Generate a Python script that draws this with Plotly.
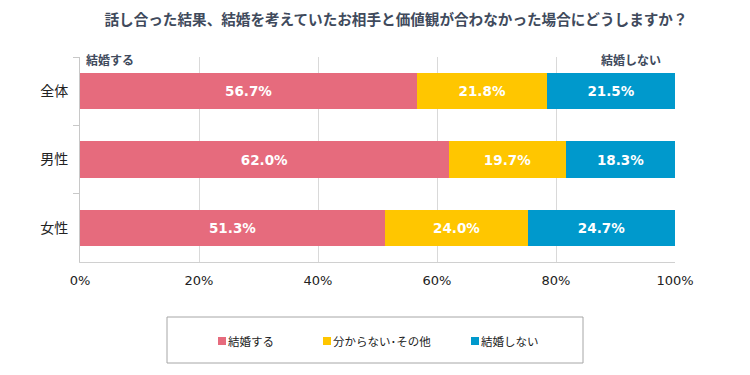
import plotly.graph_objects as go

categories = ["全体", "男性", "女性"]
series_names = ["結婚する", "分からない･その他", "結婚しない"]
marry = [56.7, 62.0, 51.3]
unknown = [21.8, 19.7, 24.0]
not_marry = [21.5, 18.3, 24.7]
colors = ["#E66B7D", "#FFC600", "#0099CC"]
x_ticks = [0, 20, 40, 60, 80, 100]

JP = "Noto Sans CJK JP"
NUM = "DejaVu Sans"

# page has an 8px body margin; figure is shrunk to keep the page inside the window
OFF = 8
W, H = 742, 367
PL, PR, PT, PB = 80, 675, 57, 262  # plot area in page pixels


def px_x(px):
    return (px - PL) / (PR - PL)


def px_y(py):
    return (PB - py) / (PB - PT)


fig = go.Figure()
for name, vals, col in zip(series_names, [marry, unknown, not_marry], colors):
    fig.add_trace(go.Bar(
        y=categories, x=vals, name=name, orientation="h",
        marker=dict(color=col, line=dict(width=0)),
        text=[f"{v:.1f}%" for v in vals], textposition="inside",
        insidetextanchor="middle", constraintext="none",
        textfont=dict(color="white", size=13.5, family=NUM, weight="bold"),
        hoverinfo="skip", showlegend=False,
    ))

fig.update_layout(
    barmode="stack", bargap=0.473,
    width=W, height=H,
    margin=dict(l=PL - OFF, r=W + OFF - PR, t=PT - OFF, b=H + OFF - PB, autoexpand=False),
    plot_bgcolor="white", paper_bgcolor="white",
    font=dict(family=JP, color="#222222"),
    title=dict(text="話し合った結果、結婚を考えていたお相手と価値観が合わなかった場合にどうしますか？",
               x=(396 - OFF) / W, xanchor="center", xref="container",
               y=1 - (20 - OFF) / H, yanchor="middle", yref="container",
               font=dict(size=14.6, color="#404A5C", family=JP, weight="bold")),
    xaxis=dict(range=[0, 100], tickvals=x_ticks, ticktext=[f"{t}%" for t in x_ticks],
               showgrid=True, gridcolor="#D9D9D9", gridwidth=1, zeroline=False,
               showline=True, linecolor="#D0D0D0", ticks="",
               tickfont=dict(size=13, color="#222222", family=NUM),
               ticklabelstandoff=6, automargin=False, fixedrange=True),
    yaxis=dict(autorange="reversed", showline=True, linecolor="#C8C8C8",
               ticks="outside", tickson="boundaries", ticklen=6, tickcolor="#C8C8C8",
               tickfont=dict(size=14, color="#222222", family=JP), ticklabelstandoff=8,
               automargin=False, fixedrange=True),
    showlegend=False,
)

# side captions above the plot
fig.add_annotation(text="結婚する", xref="paper", yref="paper", x=px_x(84), y=px_y(59),
                   xanchor="left", yanchor="middle", showarrow=False,
                   font=dict(size=12, color="#404A5C", weight="bold"))
fig.add_annotation(text="結婚しない", xref="paper", yref="paper", x=px_x(663), y=px_y(59),
                   xanchor="right", yanchor="middle", showarrow=False,
                   font=dict(size=12, color="#404A5C", weight="bold"))

# legend box
fig.add_shape(type="rect", xref="paper", yref="paper",
              x0=px_x(167), x1=px_x(583), y0=px_y(363), y1=px_y(317),
              line=dict(color="#A6A6A6", width=1), fillcolor="rgba(0,0,0,0)")
leg_marker_x = [222, 327, 475]
leg_y = 341
for name, col, mx in zip(series_names, colors, leg_marker_x):
    fig.add_shape(type="rect", xref="paper", yref="paper",
                  x0=px_x(mx - 4), x1=px_x(mx + 4), y0=px_y(leg_y + 4), y1=px_y(leg_y - 4),
                  line=dict(width=0), fillcolor=col)
    fig.add_annotation(text=name, xref="paper", yref="paper", x=px_x(mx + 4), y=px_y(leg_y),
                       xanchor="left", yanchor="middle", showarrow=False,
                       font=dict(size=11.5, color="#222222", family=JP))

fig.write_html("out.html")
